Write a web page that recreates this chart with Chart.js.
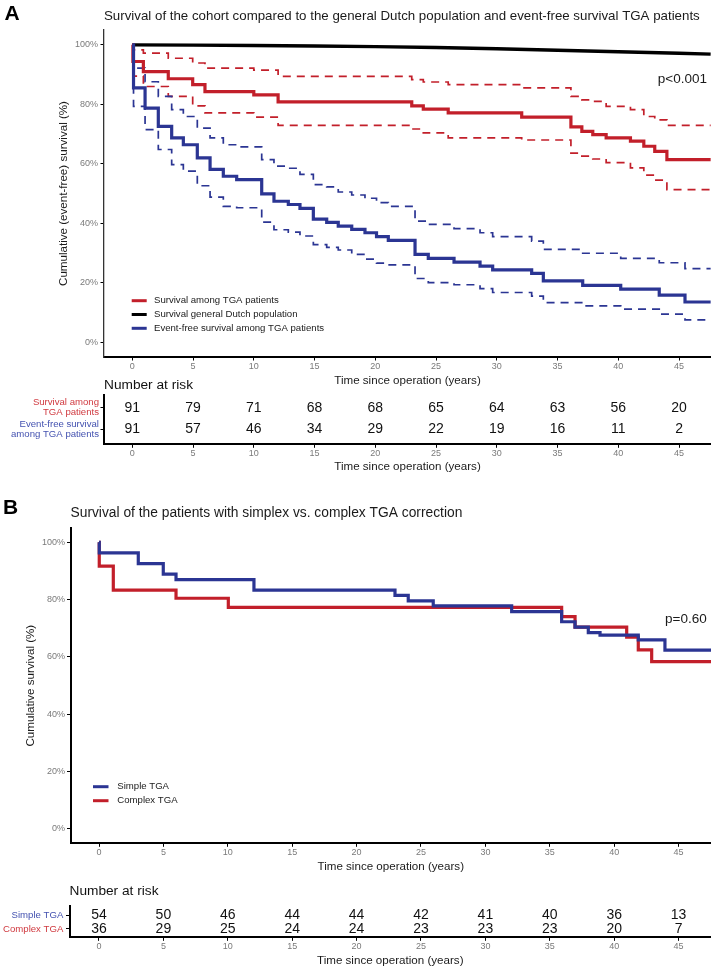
<!DOCTYPE html>
<html><head><meta charset="utf-8">
<script src="https://cdn.jsdelivr.net/npm/chart.js@4.4.1/dist/chart.umd.min.js"></script>
<style>
html,body{margin:0;padding:0;background:#fff;}
#wrap{position:relative;width:711px;height:972px;overflow:hidden;background:#fff;}
canvas{position:absolute;left:0;}
</style></head><body>
<div id="wrap">
<canvas id="cA" width="711" height="392" style="top:0px;width:711px;height:392px"></canvas>
<canvas id="cAr" width="711" height="100" style="top:375px;width:711px;height:100px"></canvas>
<canvas id="cB" width="711" height="385" style="top:495px;width:711px;height:385px"></canvas>
<canvas id="cBr" width="711" height="92" style="top:880px;width:711px;height:92px"></canvas>
</div>
<script>
// ---------------- data ----------------
const X_TICKS = [0, 5, 10, 15, 20, 25, 30, 35, 40, 45];
const Y_TICKS = [0, 20, 40, 60, 80, 100];
const X_TITLE = 'Time since operation (years)';

// Panel A
const A_TITLE = 'Survival of the cohort compared to the general Dutch population and event-free survival TGA patients';
const A_YTITLE = 'Cumulative (event-free) survival (%)';
const A_SERIES = ['Survival among TGA patients', 'Survival general Dutch population', 'Event-free survival among TGA patients'];

const A_OS_T  = [0, 0.05, 0.91, 2.96, 4.97, 5.98, 10.0, 12.0, 23.0, 23.95, 26.0, 32.05, 36.1, 37.0, 37.9, 39.0, 41.0, 42.1, 43.0, 44.0, 47.6];
const A_OS    = [100, 94.4, 91.0, 88.6, 86.6, 84.3, 83.2, 80.8, 79.5, 78.4, 77.1, 75.7, 72.4, 70.9, 69.8, 68.7, 67.6, 65.9, 64.2, 61.4, 61.4];
const A_OS_LO = [100, 89.5, 86.0, 82.7, 79.5, 77.1, 75.7, 72.9, 71.7, 70.4, 68.7, 68.0, 63.6, 62.6, 61.6, 60.4, 58.6, 56.2, 54.5, 51.3, 51.3];
const A_OS_HI = [100, 98.3, 97.2, 95.5, 93.9, 92.2, 91.5, 89.4, 88.3, 87.5, 86.6, 85.5, 82.7, 81.5, 81.0, 79.3, 78.2, 75.9, 74.8, 72.9, 72.9];

const A_DUTCH_T = [0, 5, 10, 15, 20, 25, 30, 35, 40, 45, 47.6];
const A_DUTCH   = [100, 99.9, 99.8, 99.6, 99.4, 99.1, 98.7, 98.2, 97.7, 97.2, 96.9];

const A_EF_T  = [0, 0.1, 1.05, 2.14, 3.24, 4.2, 5.35, 6.4, 7.49, 8.59, 10.65, 11.66, 12.84, 13.8, 14.9, 16.0, 16.95, 18.06, 19.15, 20.1, 21.07, 23.27, 24.36, 26.48, 28.62, 29.66, 32.87, 33.83, 37.07, 40.2, 43.37, 45.49, 47.6];
const A_EF    = [100, 85.5, 78.7, 72.6, 68.7, 66.4, 62.0, 58.1, 55.8, 54.7, 49.9, 47.4, 46.3, 45.0, 41.4, 40.3, 39.0, 37.9, 36.8, 35.5, 34.2, 29.5, 28.2, 26.9, 25.6, 24.3, 23.1, 20.6, 19.1, 17.8, 15.8, 13.5, 13.5];
const A_EF_HI = [100, 92.2, 87.6, 82.7, 78.2, 75.9, 72.0, 68.7, 66.4, 65.7, 61.4, 59.2, 58.5, 56.4, 53.0, 52.2, 50.5, 49.5, 48.4, 46.9, 45.7, 40.7, 39.6, 38.2, 36.8, 35.5, 34.0, 31.2, 29.9, 28.2, 26.7, 24.7, 24.7];
const A_EF_LO = [100, 79.3, 71.5, 64.8, 59.7, 57.5, 52.6, 48.8, 45.7, 45.2, 40.4, 37.8, 37.0, 35.7, 32.8, 31.9, 31.0, 29.5, 27.9, 26.6, 26.0, 21.4, 20.0, 19.3, 18.0, 16.7, 15.5, 13.3, 12.2, 11.1, 9.4, 7.5, 7.5];

const A_PVAL = 'p<0.001';
const RISK_T = [0, 5, 10, 15, 20, 25, 30, 35, 40, 45];
const A_RISK_ROWS = [['Survival among', 'TGA patients'], ['Event-free survival', 'among TGA patients']];
const A_RISK_OS = [91, 79, 71, 68, 68, 65, 64, 63, 56, 20];
const A_RISK_EF = [91, 57, 46, 34, 29, 22, 19, 16, 11, 2];

// Panel B
const B_TITLE = 'Survival of the patients with simplex vs. complex TGA correction';
const B_YTITLE = 'Cumulative survival (%)';
const B_SERIES = ['Simple TGA', 'Complex TGA'];
const B_SIMPLE_T = [0, 0.02, 3.05, 4.99, 5.98, 12.03, 22.98, 24.01, 25.95, 32.04, 35.92, 36.96, 37.99, 38.9, 41.87, 43.94, 47.6];
const B_SIMPLE   = [100, 96.3, 92.6, 88.9, 87.0, 83.3, 81.5, 79.6, 77.8, 75.8, 72.3, 70.4, 68.5, 67.6, 66.0, 62.4, 62.4];
const B_COMPLEX_T = [0, 0.02, 1.11, 5.98, 10.04, 35.92, 36.96, 40.97, 41.87, 42.91, 47.6];
const B_COMPLEX   = [100, 91.7, 83.3, 80.5, 77.3, 74.1, 70.4, 66.9, 62.5, 58.4, 58.4];
const B_PVAL = 'p=0.60';
const B_RISK_ROWS = ['Simple TGA', 'Complex TGA'];
const B_RISK_SIMPLE  = [54, 50, 46, 44, 44, 42, 41, 40, 36, 13];
const B_RISK_COMPLEX = [36, 29, 25, 24, 24, 23, 23, 23, 20, 7];

// ---------------- styling ----------------
const RED = '#C21F2A', BLUE = '#2B3593', BLACK = '#000000';
const RED_TXT = '#D03A40', BLUE_TXT = '#4452B0';
const FONT = '"Liberation Sans", Arial, Helvetica, sans-serif';
Chart.defaults.font.family = FONT;
Chart.defaults.color = '#1a1a1a';

const zip = (t, v) => t.map((x, i) => ({x: x, y: v[i]}));

function kmLine(label, t, v, color, width, dash, rank) {
  const d = {label: label, data: zip(t, v), borderColor: color, backgroundColor: color,
    borderWidth: width, borderDash: dash || [], stepped: true, pointRadius: 0, fill: false,
    borderCapStyle: 'butt', borderJoinStyle: 'miter'};
  if (rank !== undefined) d.legendRank = rank;
  return d;
}

const overlay = {
  id: 'overlay',
  afterDraw(chart, args, o) {
    if (!o) return;
    const ctx = chart.ctx, ca = chart.chartArea;
    ctx.save();
    ctx.setLineDash([]);
    if (o.letter) {
      ctx.font = 'bold 21px ' + FONT; ctx.fillStyle = '#000';
      ctx.textAlign = 'left'; ctx.textBaseline = 'middle';
      ctx.fillText(o.letter.text, o.letter.x, o.letter.y);
    }
    if (o.note) {
      ctx.font = o.note.size + 'px ' + FONT; ctx.fillStyle = '#1a1a1a';
      ctx.textAlign = 'right'; ctx.textBaseline = 'alphabetic';
      ctx.fillText(o.note.text, ca.right - o.note.dx, ca.top + o.note.dy);
    }
    if (o.legend) {
      const L = o.legend;
      const items = chart.data.datasets.filter(d => d.legendRank !== undefined)
        .sort((a, b) => a.legendRank - b.legendRank);
      ctx.font = L.size + 'px ' + FONT; ctx.textAlign = 'left'; ctx.textBaseline = 'middle';
      items.forEach((d, i) => {
        const y = ca.top + L.y + i * L.dy;
        ctx.strokeStyle = d.borderColor; ctx.lineWidth = 3; ctx.lineCap = 'butt';
        ctx.beginPath(); ctx.moveTo(ca.left + L.x, y); ctx.lineTo(ca.left + L.x + L.len, y); ctx.stroke();
        ctx.fillStyle = '#1a1a1a';
        ctx.fillText(d.label, ca.left + L.x + L.len + L.gap, y);
      });
    }
    if (o.counts) {
      ctx.font = o.counts.size + 'px ' + FONT; ctx.fillStyle = '#111';
      ctx.textAlign = 'center'; ctx.textBaseline = 'middle';
      chart.data.datasets.forEach((d, i) => {
        if (!d.counts) return;
        chart.getDatasetMeta(i).data.forEach((pt, j) => {
          ctx.fillText(String(d.counts[j]), pt.x, pt.y + (o.counts.dy || 0));
        });
      });
    }
    ctx.restore();
  }
};
Chart.register(overlay);

function xScale(c) {
  return {
    type: 'linear', min: c.xmin, max: c.xmax, bounds: 'data',
    afterBuildTicks: s => { s.ticks = X_TICKS.map(v => ({value: v})); },
    afterFit: s => { s.height = c.xh; },
    grid: {display: true, drawOnChartArea: false, drawTicks: true, tickLength: 3.5, color: '#000', lineWidth: 1},
    border: {display: true, color: '#000', width: 2},
    ticks: {color: '#7a7a7a', font: {size: 9}, padding: c.xtp, maxRotation: 0, autoSkip: false},
    title: {display: true, text: X_TITLE, color: '#1a1a1a', font: {size: 11.6}, padding: {top: 0, bottom: c.xtb}}
  };
}

function mainOptions(c) {
  return {
    responsive: false, animation: false, devicePixelRatio: 1,
    layout: {padding: 0},
    plugins: {
      legend: {display: false}, tooltip: {enabled: false},
      title: {display: true, text: c.title, align: 'start', fullSize: false, color: '#1a1a1a',
        font: {size: c.titleSize, weight: 'normal'}, padding: c.titlePad},
      overlay: c.overlay
    },
    scales: {
      x: xScale(c),
      y: {
        type: 'linear', min: -5, max: 105, bounds: 'data',
        afterBuildTicks: s => { s.ticks = Y_TICKS.map(v => ({value: v})); },
        afterFit: s => { s.width = c.yw; },
        grid: {display: true, drawOnChartArea: false, drawTicks: true, tickLength: 3.5, color: '#000', lineWidth: 1},
        border: {display: true, color: c.ycolor, width: c.ywidth},
        ticks: {color: '#7a7a7a', font: {size: 9}, padding: c.ytp, callback: v => v + '%'},
        title: {display: true, text: c.ytitle, color: '#1a1a1a', font: {size: 11.6}, padding: {top: c.ytt, bottom: 0}}
      }
    }
  };
}

function riskOptions(c) {
  return {
    responsive: false, animation: false, devicePixelRatio: 1,
    layout: {padding: 0},
    plugins: {
      legend: {display: false}, tooltip: {enabled: false},
      title: {display: true, text: 'Number at risk', align: 'start', fullSize: false, color: '#111',
        font: {size: 13.7, weight: 'normal'}, padding: c.titlePad},
      overlay: {counts: {size: 14}}
    },
    scales: {
      x: xScale(c),
      y: {
        type: 'linear', reverse: true, min: c.ymin, max: c.ymax, bounds: 'data',
        afterBuildTicks: s => { s.ticks = c.rows.map((r, i) => ({value: i})); },
        afterFit: s => { s.width = c.yw; },
        grid: {display: true, drawOnChartArea: false, drawTicks: true, tickLength: 3.5, color: '#000', lineWidth: 1},
        border: {display: true, color: '#000', width: 2},
        ticks: {color: ctx => c.rowColors[ctx.index], font: {size: 9.6, lineHeight: 1.05}, padding: c.ytp,
          callback: v => c.rows[v]}
      }
    }
  };
}

function riskData(rowsCounts) {
  return {datasets: rowsCounts.map((cnt, r) => ({
    data: RISK_T.map(t => ({x: t, y: r})), counts: cnt, pointRadius: 0, showLine: false,
    borderColor: 'rgba(0,0,0,0)', backgroundColor: 'rgba(0,0,0,0)'
  }))};
}

// ---------------- Panel A ----------------
new Chart(document.getElementById('cA'), {
  type: 'line',
  data: {datasets: [
    kmLine(A_SERIES[2], A_EF_T, A_EF, BLUE, 3.2, [], 2),
    kmLine(A_SERIES[0], A_OS_T, A_OS, RED, 3.2, [], 0),
    Object.assign(kmLine(A_SERIES[1], A_DUTCH_T, A_DUTCH, BLACK, 3.4, [], 1), {stepped: false, tension: 0}),
    kmLine('Event-free upper CI', A_EF_T, A_EF_HI, BLUE, 1.7, [8, 6]),
    kmLine('Event-free lower CI', A_EF_T, A_EF_LO, BLUE, 1.7, [8, 6]),
    kmLine('Survival upper CI', A_OS_T, A_OS_HI, RED, 1.7, [8, 6]),
    kmLine('Survival lower CI', A_OS_T, A_OS_LO, RED, 1.7, [8, 6])
  ]},
  options: mainOptions({
    title: A_TITLE, titleSize: 13.3, titlePad: {top: 8.72, bottom: 5.32},
    xmin: -2.33, xmax: 47.63, xh: 35, xtp: 0.5, xtb: 4.04,
    yw: 104, ytp: 2.5, ytt: 57.0, ytitle: A_YTITLE, ycolor: '#333', ywidth: 1.3,
    overlay: {
      letter: {text: 'A', x: 4.5, y: 14},
      note: {text: A_PVAL, size: 13.5, dx: 4, dy: 53.3},
      legend: {x: 27.7, y: 270.7, dy: 13.8, len: 15, gap: 7.3, size: 9.6}
    }
  })
});

new Chart(document.getElementById('cAr'), {
  type: 'scatter',
  data: riskData([A_RISK_OS, A_RISK_EF]),
  options: riskOptions({
    titlePad: {top: 2.48, bottom: 1.08},
    xmin: -2.33, xmax: 47.63, xh: 30.7, xtp: 0, xtb: 1.04,
    yw: 104, ytp: 1.5, ymin: -0.596, ymax: 1.718,
    rows: A_RISK_ROWS, rowColors: [RED_TXT, BLUE_TXT]
  })
});

// ---------------- Panel B ----------------
new Chart(document.getElementById('cB'), {
  type: 'line',
  data: {datasets: [
    kmLine(B_SERIES[0], B_SIMPLE_T, B_SIMPLE, BLUE, 3.2, [], 0),
    kmLine(B_SERIES[1], B_COMPLEX_T, B_COMPLEX, RED, 3.2, [], 1)
  ]},
  options: mainOptions({
    title: B_TITLE, titleSize: 13.8, titlePad: {top: 10.02, bottom: 6.42},
    xmin: -2.213, xmax: 47.516, xh: 36.7, xtp: 0.6, xtb: 6.34,
    yw: 70.5, ytp: 2, ytt: 23.74, ytitle: B_YTITLE, ycolor: '#000', ywidth: 2,
    overlay: {
      letter: {text: 'B', x: 3, y: 13.7},
      note: {text: B_PVAL, size: 13.5, dx: 4.3, dy: 94.5},
      legend: {x: 22.5, y: 258.7, dy: 14, len: 15.5, gap: 8.8, size: 9.6}
    }
  })
});

new Chart(document.getElementById('cBr'), {
  type: 'scatter',
  data: riskData([B_RISK_SIMPLE, B_RISK_COMPLEX]),
  options: riskOptions({
    titlePad: {top: 3.48, bottom: 6.08},
    xmin: -2.29, xmax: 47.516, xh: 34.7, xtp: 0.6, xtb: 4.34,
    yw: 69.5, ytp: 2.7, ymin: -0.643, ymax: 1.593,
    rows: B_RISK_ROWS, rowColors: [BLUE_TXT, RED_TXT]
  })
});
</script>
</body></html>
